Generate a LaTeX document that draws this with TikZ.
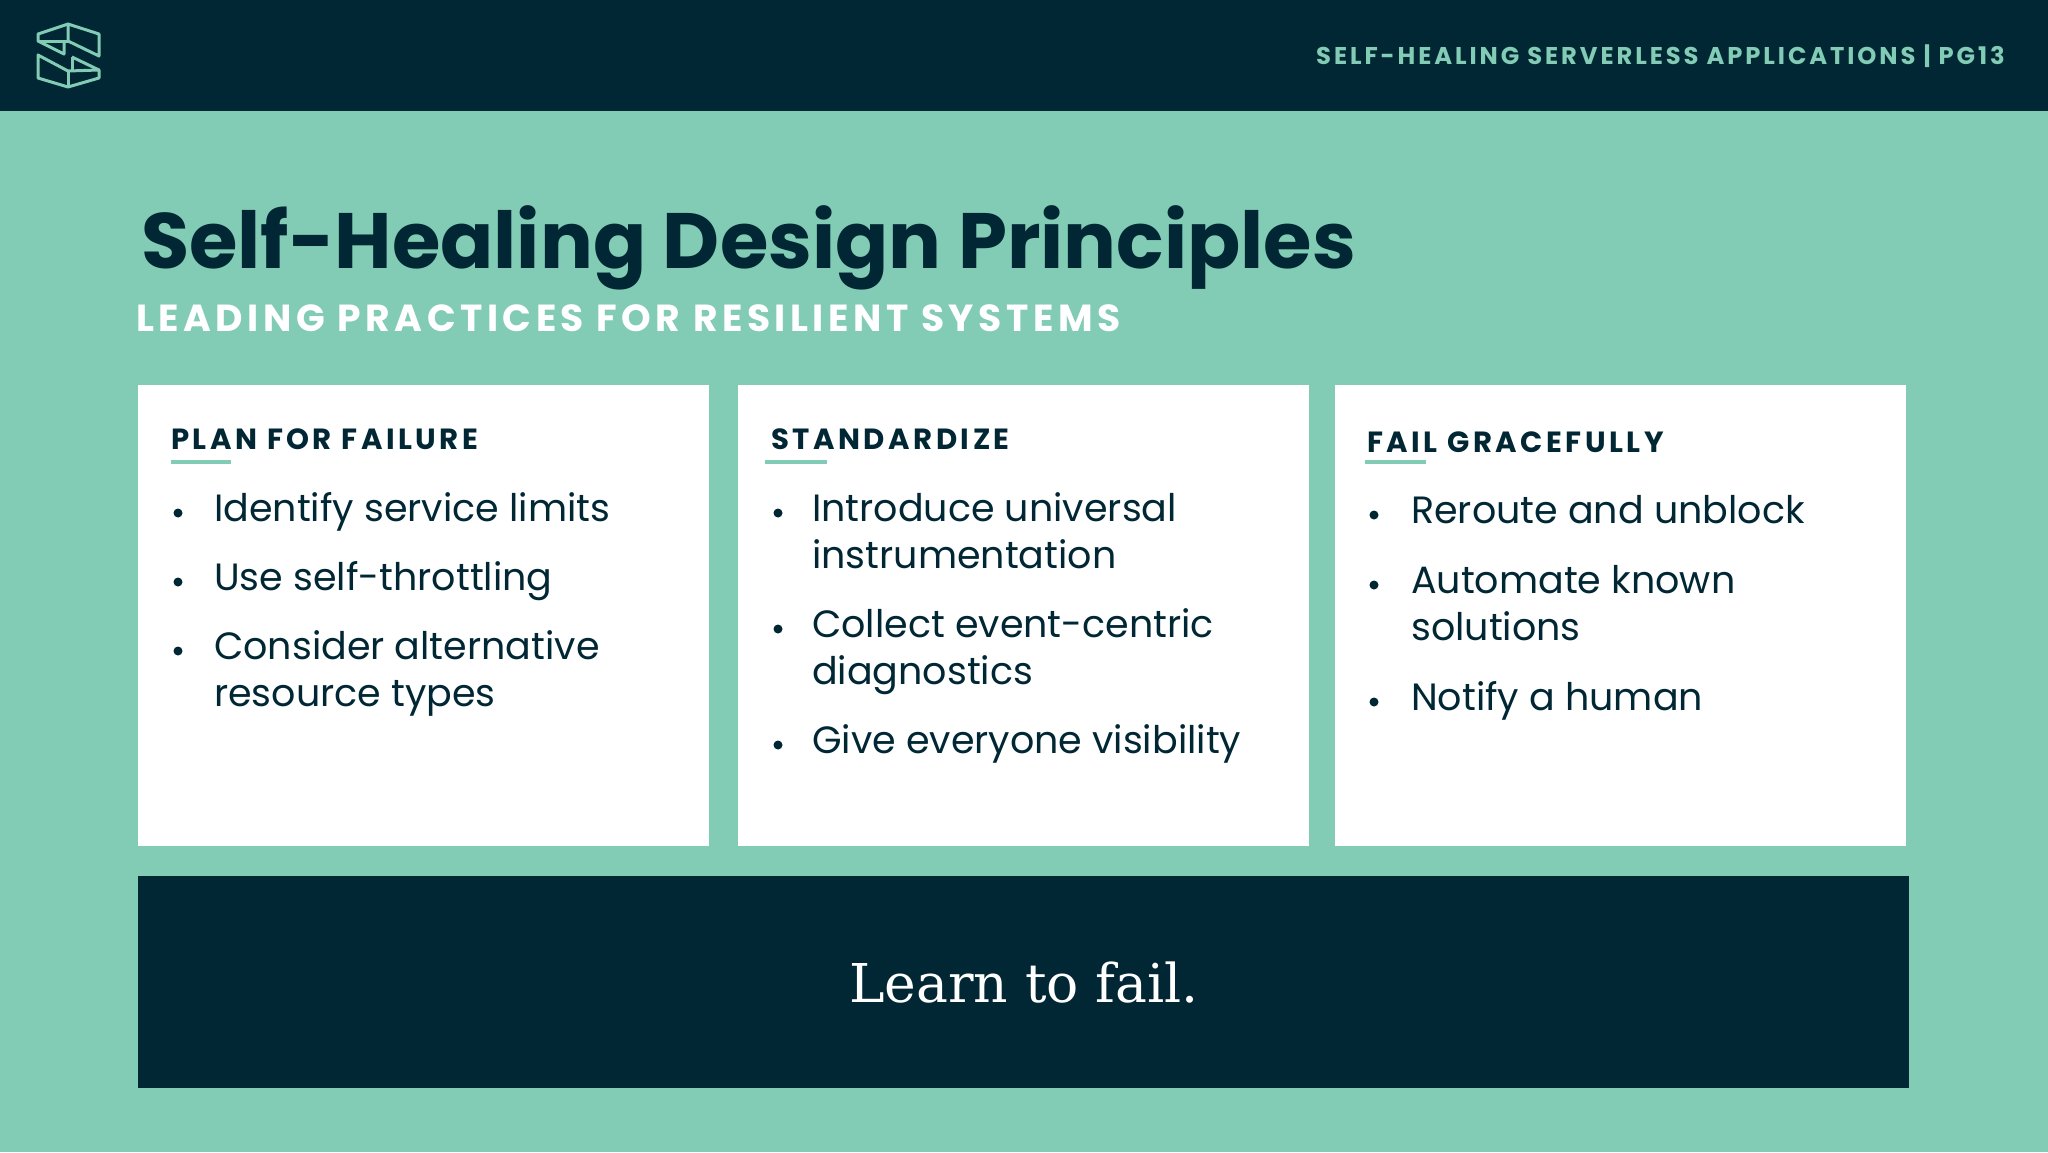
\documentclass[tikz,border=0pt]{standalone}
\usepackage{fontspec}
\setmainfont{Poppins}
\newfontfamily\capsfont[LetterSpace=12]{Poppins}
\newfontfamily\slabfont{DejaVu Serif}
\definecolor{navy}{HTML}{012735}
\definecolor{mint}{HTML}{82CBB4}
\tikzset{
	headtext/.style={anchor=base west,inner sep=0pt,text=navy,font=\capsfont\bfseries\fontsize{29.2}{32}\selectfont},
	itemtext/.style={anchor=base west,inner sep=0pt,text=navy,align=left,font=\fontsize{38}{47}\selectfont},
	bulletdot/.style={circle,fill=navy,inner sep=0pt,minimum size=9pt},
	logoline/.style={draw=mint,line width=3pt,line join=round}
}
\begin{document}
\begin{tikzpicture}[x=1pt,y=-1pt]
	\useasboundingbox (0,0) rectangle (2048,1152);
	\fill [mint] (0,0) rectangle (2048,1152);
	\fill [navy] (0,0) rectangle (2048,111);
	\draw [logoline] (68,24) -- (38,34) -- (38,41) -- (64,54) -- (64,41);
	\draw [logoline] (38,41) -- (68,41);
	\draw [logoline] (68,24) -- (68,41) -- (99,56) -- (99,34) -- cycle;
	\draw [logoline] (38,55) -- (68,71) -- (99,70) -- (99,78) -- (68,87) -- (38,78) -- cycle;
	\draw [logoline] (68,71) -- (68,87);
	\draw [logoline] (72,57) -- (99,70);
	\draw [logoline] (72,57) -- (72,71);
	\node (pagetag) [anchor=base east,inner sep=0pt,text=mint,font=\capsfont\bfseries\fontsize{24.25}{28}\selectfont] at (2005,64) {SELF-HEALING SERVERLESS APPLICATIONS | PG13};
	\node (title) [anchor=base west,inner sep=0pt,text=navy,font=\bfseries\fontsize{78.5}{80}\selectfont] at (141,268) {Self-Healing Design Principles};
	\node (subtitle) [anchor=base west,inner sep=0pt,text=white,font=\capsfont\bfseries\fontsize{37.7}{40}\selectfont] at (136,331) {LEADING PRACTICES FOR RESILIENT SYSTEMS};
	\fill [white] (138,385) rectangle (709,846);
	\fill [white] (738,385) rectangle (1309,846);
	\fill [white] (1335,385) rectangle (1906,846);
	\node (planhead) [headtext] at (171,449) {PLAN FOR FAILURE};
	\fill [mint] (171,460) rectangle (231,464);
	\node (planone) [itemtext] at (214,521) {Identify service limits};
	\node (plantwo) [itemtext] at (214,590) {Use self-throttling};
	\node (planthree) [itemtext] at (214,706) {Consider alternative\\resource types};
	\node (plandotone) [bulletdot] at (178,513) {};
	\node (plandottwo) [bulletdot] at (178,582) {};
	\node (plandotthree) [bulletdot] at (178,651) {};
	\node (stdhead) [headtext] at (771,449) {STANDARDIZE};
	\fill [mint] (765,460) rectangle (827,464);
	\node (stdone) [itemtext] at (812,568) {Introduce universal\\instrumentation};
	\node (stdtwo) [itemtext] at (812,684) {Collect event-centric\\diagnostics};
	\node (stdthree) [itemtext] at (812,753) {Give everyone visibility};
	\node (stddotone) [bulletdot] at (778,513) {};
	\node (stddottwo) [bulletdot] at (778,629) {};
	\node (stddotthree) [bulletdot] at (778,745) {};
	\node (failhead) [headtext] at (1367,452) {FAIL GRACEFULLY};
	\fill [mint] (1365,460) rectangle (1426,464);
	\node (failone) [itemtext] at (1411,523) {Reroute and unblock};
	\node (failtwo) [itemtext] at (1411,640) {Automate known\\solutions};
	\node (failthree) [itemtext] at (1411,710) {Notify a human};
	\node (faildotone) [bulletdot] at (1374,515) {};
	\node (faildottwo) [bulletdot] at (1374,585) {};
	\node (faildotthree) [bulletdot] at (1374,702) {};
	\fill [navy] (138,876) rectangle (1909,1088);
	\node (banner) [anchor=base,inner sep=0pt,text=white,font=\slabfont\fontsize{53.5}{60}\selectfont] at (1024,1002) {Learn to fail.};
\end{tikzpicture}
\end{document}
